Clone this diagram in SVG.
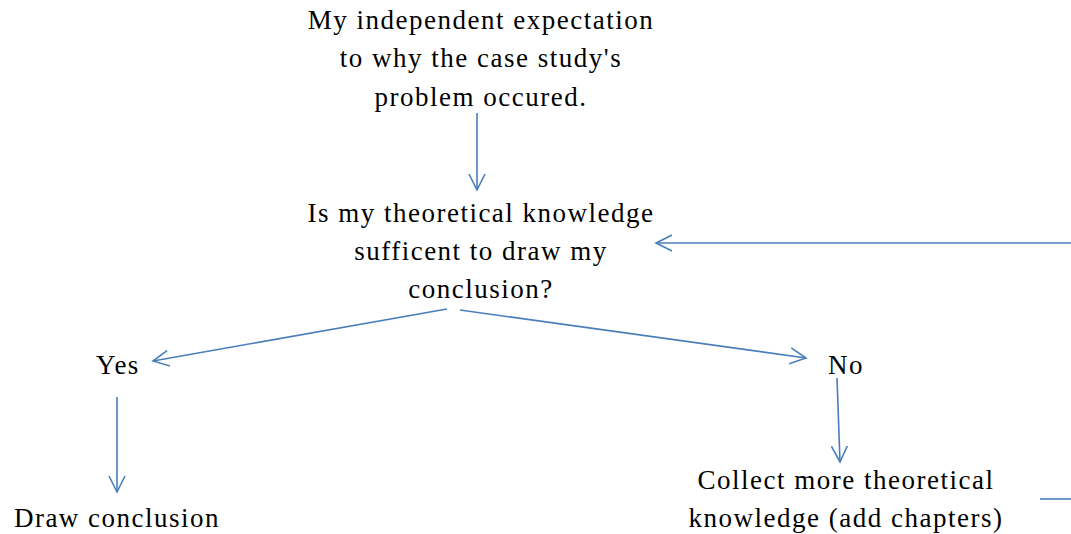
<svg xmlns="http://www.w3.org/2000/svg" width="1071" height="534" viewBox="0 0 1071 534">
<defs>
<style>
text{font-family:"Liberation Serif","Times New Roman",serif;font-size:27px;letter-spacing:1.5px;fill:#000;text-anchor:middle}
.c{stroke:#4a7ebb;stroke-width:1.6;fill:none}
</style>
<marker id="a" markerWidth="20" markerHeight="20" refX="16" refY="8" orient="auto" markerUnits="userSpaceOnUse" viewBox="0 0 20 16">
<path d="M0,0 L16,8 L0,16" fill="none" stroke="#4a7ebb" stroke-width="1.6"/>
</marker>
</defs>
<rect width="1071" height="534" fill="#fff"/>
<g id="n1"><text x="481" y="29">My independent expectation</text><text x="481" y="67">to why the case study's</text><text x="481" y="106">problem occured.</text></g>
<g id="n2"><text x="481" y="222">Is my theoretical knowledge</text><text x="481" y="260">sufficent to draw my</text><text x="481" y="298">conclusion?</text></g>
<g id="n3"><text x="118" y="374">Yes</text></g>
<g id="n4"><text x="846" y="374">No</text></g>
<g id="n5"><text x="117" y="527">Draw conclusion</text></g>
<g id="n6"><text x="846" y="489">Collect more theoretical</text><text x="846" y="527">knowledge (add chapters)</text></g>
<g id="connectors">
<line class="c" x1="477" y1="113" x2="477" y2="190" marker-end="url(#a)"/>
<line class="c" x1="447" y1="309" x2="153" y2="361" marker-end="url(#a)"/>
<line class="c" x1="460" y1="310" x2="806" y2="358" marker-end="url(#a)"/>
<line class="c" x1="837" y1="378" x2="840" y2="462" marker-end="url(#a)"/>
<line class="c" x1="117" y1="397" x2="117" y2="492" marker-end="url(#a)"/>
<line class="c" x1="1071" y1="243" x2="656" y2="243" marker-end="url(#a)"/>
<line class="c" x1="1040" y1="499" x2="1071" y2="499"/>
</g>
</svg>
